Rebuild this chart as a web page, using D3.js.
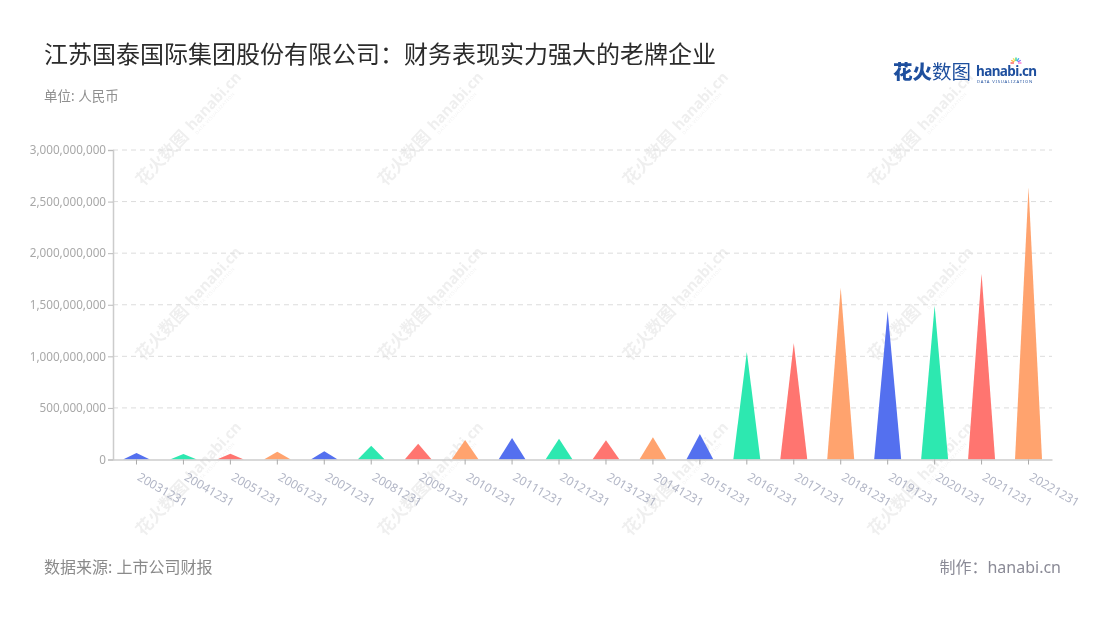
<!DOCTYPE html>
<html>
<head>
<meta charset="utf-8">
<script src="https://cdn.jsdelivr.net/npm/d3@7"></script>
<style>
  html, body { margin: 0; padding: 0; background: #fff; }
  svg text { font-family: "Noto Sans", "Noto Sans CJK SC", sans-serif; }
</style>
</head>
<body>
<svg id="chart" width="1100" height="620"></svg>
<script>
// ---------- data ----------
const categories = ["20031231","20041231","20051231","20061231","20071231","20081231","20091231",
  "20101231","20111231","20121231","20131231","20141231","20151231","20161231","20171231",
  "20181231","20191231","20201231","20211231","20221231"];
const values = [62e6, 54e6, 55e6, 75e6, 80e6, 134e6, 153e6, 189e6, 208e6, 202e6, 186e6, 215e6,
  247e6, 1042e6, 1130e6, 1665e6, 1440e6, 1490e6, 1800e6, 2640e6];
const yTicks = [0, 5e8, 1e9, 1.5e9, 2e9, 2.5e9, 3e9];
const palette = ["#5470ef", "#2de8b0", "#ff7570", "#ffa36e"];
const titleText = "江苏国泰国际集团股份有限公司：财务表现实力强大的老牌企业";
const unitText = "单位: 人民币";
const sourceText = "数据来源: 上市公司财报";
const makerText = "制作：hanabi.cn";

(function () {
// ---------- layout ----------
const svg = d3.select("#chart");
const pLeft = 113, pRight = 1052, pTop = 150, pBottom = 459.5;

const x = d3.scaleBand().domain(categories).range([pLeft, pRight]).padding(0);
const y = d3.scaleLinear().domain([0, 3e9]).range([pBottom, pTop]);

// watermarks
const wmPos = [];
[130, 305, 480].forEach(cy => [188, 430, 675, 920].forEach(cx => wmPos.push([cx, cy])));
const wm = svg.append("g").attr("opacity", 0.065);
wmPos.forEach(([cx, cy]) => {
  const g = wm.append("g").attr("transform", `translate(${cx},${cy}) rotate(-47)`);
  g.append("text").attr("x", -72).attr("y", 6).attr("font-size", 17).attr("font-weight", 700)
    .attr("fill", "#000").text("花火数图");
  g.append("text").attr("x", 2).attr("y", 4).attr("font-size", 15).attr("font-weight", 700)
    .attr("fill", "#000").text("hanabi.cn");
  g.append("text").attr("x", 3).attr("y", 10).attr("font-size", 4.5).attr("letter-spacing", 0.6)
    .attr("fill", "#000").text("DATA VISUALIZATION");
});

// grid lines
svg.append("g").selectAll("line").data(yTicks.filter(d => d > 0)).join("line")
  .attr("x1", pLeft).attr("x2", pRight)
  .attr("y1", d => y(d)).attr("y2", d => y(d))
  .attr("stroke", "#dcdcdc").attr("stroke-width", 1).attr("stroke-dasharray", "5,4");

// y axis
const yAxis = svg.append("g").attr("transform", `translate(${pLeft},0)`)
  .call(d3.axisLeft(y).tickValues(yTicks).tickFormat(d3.format(",")).tickSize(5).tickPadding(2));
yAxis.select(".domain").attr("stroke", "#cccccc").attr("stroke-width", 1.5);
yAxis.selectAll(".tick line").attr("stroke", "#bbbbbb");
yAxis.selectAll(".tick text").attr("fill", "#a8a8a8").attr("font-size", 11.7)
  .style("font-family", "'Noto Sans', sans-serif");

// triangles
const triW = 27;
svg.append("g").selectAll("path").data(values).join("path")
  .attr("d", (d, i) => {
    const cx = x(categories[i]) + x.bandwidth() / 2;
    return `M${cx - triW / 2},${y(0)} L${cx},${y(d)} L${cx + triW / 2},${y(0)} Z`;
  })
  .attr("fill", (d, i) => palette[i % palette.length]);

// x axis
const xAxis = svg.append("g").attr("transform", `translate(0,${pBottom})`)
  .call(d3.axisBottom(x).tickSize(5).tickSizeOuter(0));
xAxis.select(".domain").attr("stroke", "#cccccc").attr("stroke-width", 1.5);
xAxis.selectAll(".tick line").attr("stroke", "#aaaaaa");
xAxis.selectAll(".tick text")
  .attr("fill", "#b2b6c6").attr("font-size", 12)
  .attr("text-anchor", "start").attr("dy", null).attr("y", null)
  .attr("transform", "translate(0,20) rotate(30)")
  .style("font-family", "'Noto Sans', sans-serif");

// title & texts
svg.append("text").attr("x", 44).attr("y", 63).attr("font-size", 24).attr("fill", "#2b2b2b")
  .text(titleText);
svg.append("text").attr("x", 44).attr("y", 101).attr("font-size", 13.5).attr("fill", "#8f8f8f")
  .text(unitText);
svg.append("text").attr("x", 44).attr("y", 573).attr("font-size", 16).attr("fill", "#8a8a8a")
  .text(sourceText);
svg.append("text").attr("x", 1061).attr("y", 573).attr("font-size", 16).attr("fill", "#8a8a96")
  .attr("text-anchor", "end").text(makerText);

// logo
const logo = svg.append("g");
logo.append("text").attr("x", 893).attr("y", 79).attr("font-size", 19.5).attr("fill", "#1e4f9e")
  .attr("font-weight", 900).text("花火");
logo.append("text").attr("x", 932).attr("y", 79).attr("font-size", 19.5).attr("fill", "#1e4f9e")
  .attr("font-weight", 400).text("数图");
logo.append("text").attr("x", 976).attr("y", 75.5).attr("font-size", 13.5).attr("fill", "#1e4f9e")
  .attr("font-weight", 700).attr("letter-spacing", -0.6).text("hanabi.cn");
logo.append("text").attr("x", 977).attr("y", 83).attr("font-size", 4.2).attr("fill", "#1e4f9e")
  .attr("letter-spacing", 0.8).text("DATA VISUALIZATION");
const sparkColors = ["#ff5b5b", "#ffb13b", "#f5e05b", "#3ed68f", "#39a9f0", "#8a6cf0", "#ff7bd0"];
sparkColors.forEach((c, i) => {
  const a = -Math.PI + (i / (sparkColors.length - 1)) * Math.PI;
  logo.append("line")
    .attr("x1", 1016 + Math.cos(a) * 2).attr("y1", 63 + Math.sin(a) * 2)
    .attr("x2", 1016 + Math.cos(a) * 5.5).attr("y2", 63 + Math.sin(a) * 5.5)
    .attr("stroke", c).attr("stroke-width", 1.4);
});
})();
</script>
</body>
</html>
